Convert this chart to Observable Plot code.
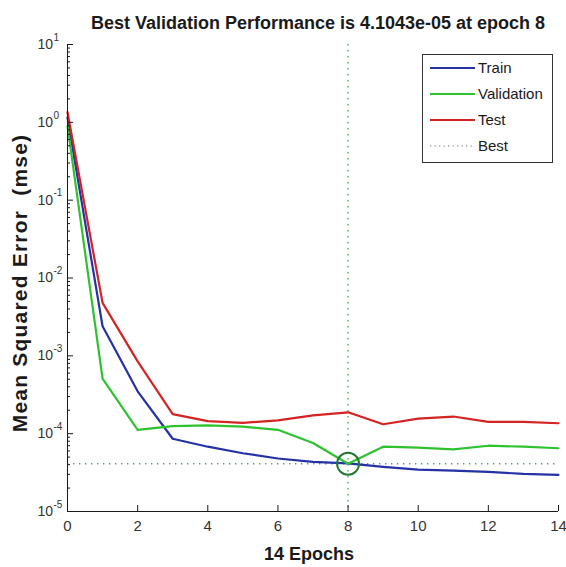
<!DOCTYPE html>
<html><head><meta charset="utf-8">
<script src="https://cdn.jsdelivr.net/npm/d3@7"></script>
<script src="https://cdn.jsdelivr.net/npm/@observablehq/plot@0.6"></script>
<style>html,body{margin:0;padding:0;background:#fff}svg{display:block}</style>
</head><body><div id="chart"></div>
<script>
// ---- data ----
const epochs     = [0, 1, 2, 3, 4, 5, 6, 7, 8, 9, 10, 11, 12, 13, 14];
const train      = [1.15, 2.4e-3, 3.5e-4, 8.6e-5, 6.8e-5, 5.6e-5, 4.8e-5, 4.35e-5, 4.15e-5, 3.75e-5, 3.45e-5, 3.35e-5, 3.22e-5, 3.05e-5, 2.96e-5];
const validation = [0.9, 5.1e-4, 1.12e-4, 1.25e-4, 1.28e-4, 1.23e-4, 1.12e-4, 7.6e-5, 4.1043e-5, 6.8e-5, 6.6e-5, 6.3e-5, 7.0e-5, 6.8e-5, 6.5e-5];
const test       = [1.35, 4.8e-3, 8.5e-4, 1.78e-4, 1.45e-4, 1.38e-4, 1.48e-4, 1.72e-4, 1.88e-4, 1.32e-4, 1.56e-4, 1.66e-4, 1.42e-4, 1.42e-4, 1.36e-4];
const bestEpoch  = 8;
const bestValue  = 4.1043e-5;
const seriesNames = ["Train", "Validation", "Test"];
const seriesColors = ["#2432a6", "#2fc22f", "#d42323"];
const xTicks = [0, 2, 4, 6, 8, 10, 12, 14];
const yExponents = [-5, -4, -3, -2, -1, 0, 1];
const titleText = "Best Validation Performance is 4.1043e-05 at epoch 8";
const xLabel = "14 Epochs";
const yLabel = "Mean Squared Error  (mse)";
const legendLabels = ["Train", "Validation", "Test", "Best"];

// ---- derived tables ----
const seriesValues = [train, validation, test];
const rows = seriesNames.flatMap((s, j) => epochs.map((e, i) => ({epoch: e, mse: seriesValues[j][i], series: s})));
const majorY = yExponents.map(k => 10 ** k);
const minorY = yExponents.slice(0, -1).flatMap(k => [2,3,4,5,6,7,8,9].map(m => m * 10 ** k));

const W = 566, H = 567, mL = 67, mR = 8, mT = 44, mB = 56;
const plotW = W - mL - mR, plotH = H - mT - mB;
const font = "'Liberation Sans', Arial, Helvetica, sans-serif";
const ink = "#1a1a1a";
const bestStroke = "#5a9e6c";

const chart = Plot.plot({
  width: W, height: H,
  marginLeft: mL, marginRight: mR, marginTop: mT, marginBottom: mB,
  style: {fontFamily: font, background: "#fff", color: ink, overflow: "visible"},
  x: {domain: [0, 14], axis: null},
  y: {type: "log", domain: [1e-5, 10], axis: null},
  color: {domain: seriesNames, range: seriesColors},
  marks: [
    Plot.ruleX([bestEpoch], {x: d => d, stroke: bestStroke, strokeWidth: 1.4, strokeDasharray: "1.4,4.6"}),
    Plot.ruleY([bestValue], {y: d => d, stroke: bestStroke, strokeWidth: 1.4, strokeDasharray: "1.4,4.6"}),
    Plot.line(rows, {x: "epoch", y: "mse", z: "series", stroke: "series", strokeWidth: 2.2, strokeLinejoin: "round"}),
    Plot.dot([{epoch: bestEpoch, mse: bestValue}], {x: "epoch", y: "mse", r: 11, stroke: "#1f7a36", strokeWidth: 2, fill: "none"}),
    // axis lines
    Plot.ruleX([0], {x: d => d, stroke: ink, strokeWidth: 1}),
    Plot.ruleY([1e-5], {y: d => d, stroke: ink, strokeWidth: 1}),
    // inward ticks
    Plot.tickX(xTicks, {x: d => d, insetTop: plotH - 6, stroke: ink}),
    Plot.tickY(majorY, {y: d => d, insetRight: plotW - 6, stroke: ink}),
    Plot.tickY(minorY, {y: d => d, insetRight: plotW - 3, stroke: ink}),
    // x tick labels
    Plot.text(xTicks, {x: d => d, text: d => String(d), frameAnchor: "bottom", dy: 9, lineAnchor: "top", fontSize: 15, fill: "#333"}),
    // y tick labels: 10 with superscript exponent
    Plot.text(yExponents, {y: k => 10 ** k, text: () => "10", frameAnchor: "left", dx: -30, textAnchor: "start", lineAnchor: "middle", fontSize: 14, fill: "#333"}),
    Plot.text(yExponents, {y: k => 10 ** k, text: k => String(k), frameAnchor: "left", dx: -14, dy: -7, textAnchor: "start", lineAnchor: "middle", fontSize: 10, fill: "#333"}),
    // title and axis labels
    Plot.text([titleText], {text: d => d, frameAnchor: "top", dx: 5, dy: -16, lineAnchor: "bottom", fontSize: 18, fontWeight: "bold", fill: ink}),
    Plot.text([xLabel], {text: d => d, frameAnchor: "bottom", dx: -4, dy: 48, lineAnchor: "bottom", fontSize: 18, fontWeight: "bold", fill: ink}),
    Plot.text([yLabel], {text: d => d, frameAnchor: "left", dx: -47, dy: 5, rotate: -90, textAnchor: "middle", lineAnchor: "middle", fontSize: 21, fontWeight: "bold", fill: ink})
  ]
});

// ---- legend & small text tweaks ----
const svg = d3.select(chart);
svg.selectAll("text").filter(function () { return this.textContent === yLabel; })
  .attr("letter-spacing", "1.2px");
const lg = svg.append("g").attr("font-family", font).attr("text-anchor", "start");
lg.append("rect").attr("x", 422.5).attr("y", 54.5).attr("width", 130).attr("height", 108)
  .attr("fill", "#fff").attr("stroke", "#333").attr("stroke-width", 1);
legendLabels.forEach((name, i) => {
  const cy = 68 + i * 26;
  const isBest = name === "Best";
  lg.append("line").attr("x1", 430).attr("x2", 475).attr("y1", cy).attr("y2", cy)
    .attr("stroke", isBest ? "#777" : seriesColors[i])
    .attr("stroke-width", isBest ? 1.2 : 2.2)
    .attr("stroke-dasharray", isBest ? "1.3,3.2" : null);
  lg.append("text").attr("x", 478).attr("y", cy).attr("dy", "0.35em")
    .attr("text-anchor", "start")
    .attr("font-size", 15).attr("fill", ink).text(name);
});

document.getElementById("chart").appendChild(chart);
</script>
</body></html>
